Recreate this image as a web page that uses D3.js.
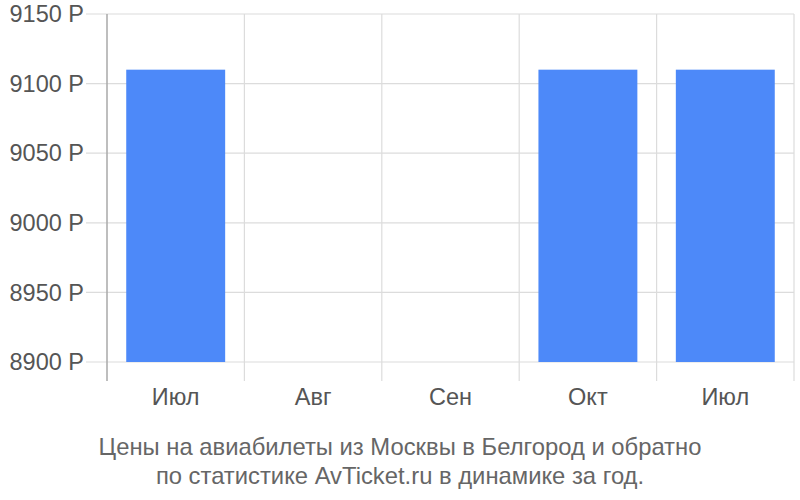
<!DOCTYPE html>
<html>
<head>
<meta charset="utf-8">
<script src="https://cdn.jsdelivr.net/npm/d3@7"></script>
<style>
  body { margin: 0; background: #fff; }
  text { font-family: "Liberation Sans", Arial, sans-serif; }
</style>
</head>
<body>
<svg id="chart" width="800" height="500"></svg>
<script>
const months = ["Июл", "Авг", "Сен", "Окт", "Июл"];
const prices = [9110, null, null, 9110, 9110];
const yTicks = [8900, 8950, 9000, 9050, 9100, 9150];
const titleLines = [
  "Цены на авиабилеты из Москвы в Белгород и обратно",
  "по статистике AvTicket.ru в динамике за год."
];

const svg = d3.select("#chart");
const margin = { left: 107, right: 6, top: 14, bottom: 138 };
const width = +svg.attr("width");
const height = +svg.attr("height");
const innerWidth = width - margin.left - margin.right;
const innerHeight = height - margin.top - margin.bottom;

const keys = months.map((m, i) => i);
const x = d3.scaleBand()
  .domain(keys)
  .range([0, innerWidth])
  .paddingInner(0.28)
  .paddingOuter(0.14);
const step = x.step();

const y = d3.scaleLinear()
  .domain([8900, 9150])
  .range([innerHeight, 0]);

const g = svg.append("g")
  .attr("transform", "translate(" + margin.left + "," + margin.top + ")");

// horizontal grid
g.selectAll(".hgrid")
  .data(yTicks)
  .enter().append("line")
  .attr("x1", -21)
  .attr("x2", innerWidth)
  .attr("y1", d => y(d))
  .attr("y2", d => y(d))
  .attr("stroke", "#dcdcdc")
  .attr("stroke-width", 1.2);

// vertical grid at band boundaries
const bounds = d3.range(months.length + 1).map(i => i * step);
g.selectAll(".vgrid")
  .data(bounds.slice(1))
  .enter().append("line")
  .attr("x1", d => d)
  .attr("x2", d => d)
  .attr("y1", 0)
  .attr("y2", innerHeight + 19)
  .attr("stroke", "#dcdcdc")
  .attr("stroke-width", 1.2);

// y labels
g.selectAll(".ylab")
  .data(yTicks)
  .enter().append("text")
  .attr("x", -23)
  .attr("y", d => y(d))
  .attr("dy", "0.35em")
  .attr("text-anchor", "end")
  .attr("fill", "#555")
  .style("font-size", "23.5px")
  .text(d => d + " Р");

// bars
g.selectAll(".bar")
  .data(keys.filter(i => prices[i] != null))
  .enter().append("rect")
  .attr("x", i => x(i))
  .attr("width", x.bandwidth())
  .attr("y", i => y(prices[i]))
  .attr("height", i => innerHeight - y(prices[i]))
  .attr("fill", "#4d89f9");

// y axis line
g.append("line")
  .attr("x1", 0).attr("x2", 0)
  .attr("y1", 0).attr("y2", innerHeight + 19)
  .attr("stroke", "#a8a8a8")
  .attr("stroke-width", 1.5);

// x labels
g.selectAll(".xlab")
  .data(keys)
  .enter().append("text")
  .attr("x", i => x(i) + x.bandwidth() / 2)
  .attr("y", innerHeight + 35)
  .attr("dy", "0.35em")
  .attr("text-anchor", "middle")
  .attr("fill", "#555")
  .style("font-size", "23.5px")
  .text(i => months[i]);

// title
svg.selectAll(".title")
  .data(titleLines)
  .enter().append("text")
  .attr("x", 400)
  .attr("y", (d, i) => 447 + i * 29)
  .attr("dy", "0.35em")
  .attr("text-anchor", "middle")
  .attr("fill", "#666")
  .style("font-size", "23.8px")
  .text(d => d);
</script>
</body>
</html>
